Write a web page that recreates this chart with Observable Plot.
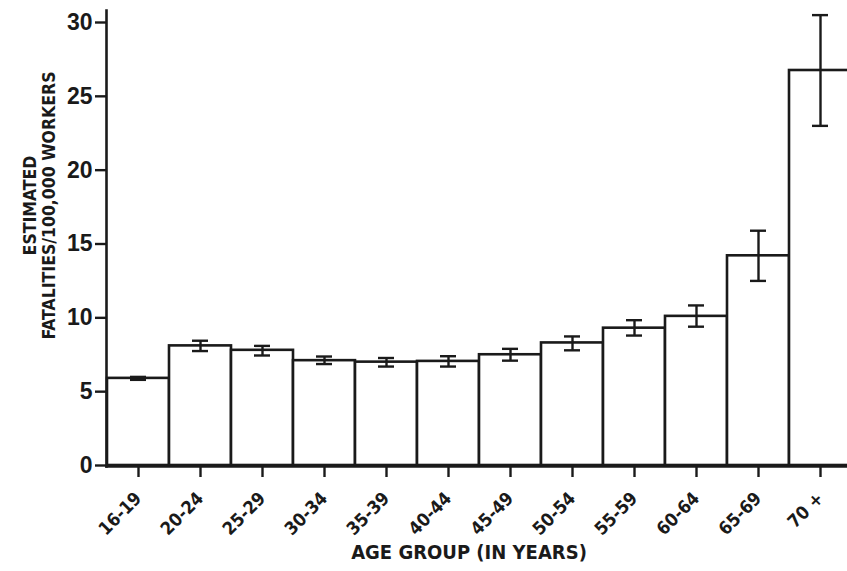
<!DOCTYPE html>
<html>
<head>
<meta charset="utf-8">
<script src="https://cdn.jsdelivr.net/npm/d3@7"></script>
<script src="https://cdn.jsdelivr.net/npm/@observablehq/plot@0.6"></script>
<style>
  html, body { margin: 0; padding: 0; background: #fff; overflow: hidden; }
  #chart svg { display: block; }
</style>
</head>
<body>
<div id="chart"></div>
<script>
const categories = ["16-19","20-24","25-29","30-34","35-39","40-44","45-49","50-54","55-59","60-64","65-69","70 +"];
const rates   = [5.9, 8.1, 7.8, 7.1, 7.0, 7.05, 7.5, 8.3, 9.3, 10.1, 14.2, 26.75];
const errLow  = [5.8, 7.75, 7.45, 6.87, 6.7, 6.7, 7.1, 7.8, 8.8, 9.4, 12.5, 23.0];
const errHigh = [6.0, 8.45, 8.1, 7.38, 7.28, 7.4, 7.9, 8.74, 9.84, 10.84, 15.9, 30.5];
const yTicks = [0, 5, 10, 15, 20, 25, 30];
const yLabel = "ESTIMATED\nFATALITIES/100,000 WORKERS";
const xLabel = "AGE GROUP (IN YEARS)";

const data = categories.map((c, i) => ({age: c, rate: rates[i], lo: errLow[i], hi: errHigh[i]}));

const ink = "#1a1a1a";
const cond = "'DejaVu Sans Condensed', 'DejaVu Sans', sans-serif";
const chart = Plot.plot({
  width: 847,
  height: 571,
  marginLeft: 106,
  marginRight: 0,
  marginTop: 10,
  marginBottom: 105,
  style: {fontFamily: "'Liberation Sans', Arial, sans-serif", background: "#fff", color: ink},
  x: {domain: categories, range: [106, 851], padding: 0, label: null},
  y: {domain: [0, 30], range: [465, 22], label: null},
  marks: [
    Plot.barY(data, {x: "age", y: "rate", fill: "#fff", stroke: ink, strokeWidth: 2.6}),
    Plot.ruleX(data, {x: "age", y1: "lo", y2: "hi", stroke: ink, strokeWidth: 2.4}),
    Plot.tickY(data, {x: "age", y: "lo", stroke: ink, strokeWidth: 2.4, insetLeft: 23, insetRight: 23}),
    Plot.tickY(data, {x: "age", y: "hi", stroke: ink, strokeWidth: 2.4, insetLeft: 23, insetRight: 23}),
    Plot.frame({anchor: "left", stroke: ink, strokeWidth: 2.6}),
    Plot.frame({anchor: "bottom", stroke: ink, strokeWidth: 2.6}),
    Plot.axisY({ticks: yTicks, tickSize: 11, tickPadding: 3, fontSize: 23, fontWeight: "bold", strokeWidth: 2.4, stroke: ink, label: null}),
    Plot.axisX({tickSize: 11, tickPadding: 18, tickRotate: -45, fontSize: 18, strokeWidth: 2.4, stroke: ink, label: null,
      fontFamily: cond, fontWeight: "bold"}),
    Plot.text([yLabel], {frameAnchor: "left", textAnchor: "middle", rotate: -90, dx: -67, dy: -33, fontSize: 17.5, fontWeight: "bold",
      lineHeight: 1.05, fill: ink, fontFamily: cond}),
    Plot.text([xLabel], {frameAnchor: "bottom", dx: -8, dy: 92, fontSize: 20, fontWeight: "bold",
      fill: ink, fontFamily: cond})
  ]
});
document.getElementById("chart").append(chart);
</script>
</body>
</html>
